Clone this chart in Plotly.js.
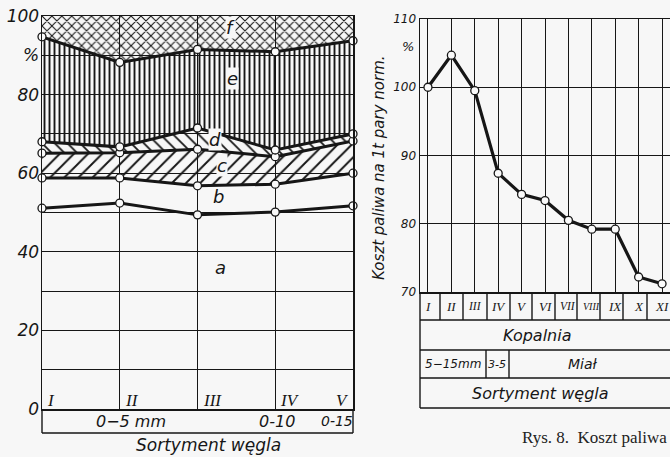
<!DOCTYPE html>
<html>
<head>
<meta charset="utf-8">
<script src="https://cdn.plot.ly/plotly-3.0.1.min.js"></script>
<style>html,body{margin:0;padding:0;background:#f7f7f7;}</style>
</head>
<body>
<div id="chart" style="width:670px;height:457px;"></div>
<script>
// ---------- data: left chart (stacked shares, %) ----------
const gradesLeft = ['I', 'II', 'III', 'IV', 'V'];
const lineA = [51.1, 52.4, 49.4, 50.1, 51.7];
const lineB = [58.8, 58.8, 56.8, 57.2, 60.0];
const lineC = [65.1, 65.2, 66.1, 64.2, 68.2];
const lineD = [68.0, 66.7, 71.5, 65.9, 70.0];
const lineE = [94.7, 88.2, 91.5, 90.9, 93.7];
const lineF = [100, 100, 100, 100, 100];
const zoneLabels = ['a', 'b', 'c', 'd', 'e', 'f'];
const leftYTicks = [0, 10, 20, 30, 40, 50, 60, 70, 80, 90, 100];
const leftYText = ['0', '', '20', '', '40', '', '60', '', '80', '%', '100'];
const leftSizes = ['0\u22125 mm', '0-10', '0-15'];
const leftAxisTitle = 'Sortyment węgla';

// ---------- data: right chart (fuel cost) ----------
const mines = ['I', 'II', 'III', 'IV', 'V', 'VI', 'VII', 'VIII', 'IX', 'X', 'XI'];
const cost = [100, 104.7, 99.5, 87.4, 84.3, 83.4, 80.5, 79.2, 79.2, 72.2, 71.2];
const rightYTicks = [70, 80, 90, 100, 110];
const rightYTitle = 'Koszt paliwa na 1t pary norm.';
const rowMine = 'Kopalnia';
const rightSizes = ['5\u221215mm', '3-5', 'Miał'];
const rightAxisTitle = 'Sortyment węgla';
const caption = 'Rys. 8.  Koszt paliwa';

// ---------- helpers ----------
const W = 670, H = 457;
const px = v => v / W;
const py = v => 1 - v / H;
const INK = '#161616';
const BG = '#f7f7f7';
const SANS = 'DejaVu Sans, Liberation Sans, sans-serif';
const SERIF = 'Liberation Serif, serif';
const fnt = (size, fam) => ({family: fam || SANS, size: size, color: INK, style: 'italic'});
const xs = gradesLeft.map((_, i) => i);
const xr = mines.map((_, i) => i);

const pat = (shape, size, sol) => ({shape: shape, size: size, solidity: sol, fgcolor: INK, bgcolor: 'rgba(0,0,0,0)', fgopacity: 1});

const traces = [
  {x: xs, y: lineB, mode: 'lines', line: {width: 0}, hoverinfo: 'skip', xaxis: 'x', yaxis: 'y'},
  {x: xs, y: lineC, mode: 'lines', line: {width: 0}, fill: 'tonexty', fillcolor: 'rgba(0,0,0,0)', fillpattern: pat('/', 10, 0.2), xaxis: 'x', yaxis: 'y'},
  {x: xs, y: lineD, mode: 'lines', line: {width: 0}, fill: 'tonexty', fillcolor: 'rgba(0,0,0,0)', fillpattern: pat('\\', 9, 0.2), xaxis: 'x', yaxis: 'y'},
  {x: xs, y: lineE, mode: 'lines', line: {width: 0}, fill: 'tonexty', fillcolor: 'rgba(0,0,0,0)', fillpattern: pat('|', 5, 0.38), xaxis: 'x', yaxis: 'y'},
  {x: xs, y: lineF, mode: 'lines', line: {width: 0}, fill: 'tonexty', fillcolor: 'rgba(0,0,0,0)', fillpattern: pat('x', 7, 0.28), xaxis: 'x', yaxis: 'y'}
];
[lineA, lineB, lineC, lineD, lineE].forEach(arr => {
  traces.push({x: xs, y: arr, mode: 'lines+markers', cliponaxis: false,
    line: {color: INK, width: 3},
    marker: {size: 8, color: '#fafafa', line: {color: INK, width: 1.3}},
    xaxis: 'x', yaxis: 'y'});
});
traces.push({x: xr, y: cost, mode: 'lines+markers', cliponaxis: false,
  line: {color: INK, width: 3.2},
  marker: {size: 8, color: '#fafafa', line: {color: INK, width: 1.3}},
  xaxis: 'x2', yaxis: 'y2'});

// ---------- annotations ----------
const ann = [];
const A = (o) => ann.push(Object.assign({showarrow: false, xanchor: 'center', yanchor: 'middle'}, o));
const zonePos = [[2.3, 36], [2.27, 54], [2.32, 62], [2.22, 68.6], [2.45, 84], [2.43, 97]];
zoneLabels.forEach((t, i) => A({xref: 'x', yref: 'y', x: zonePos[i][0], y: zonePos[i][1], text: t, font: fnt(18),
  bgcolor: i >= 2 ? BG : 'rgba(0,0,0,0)', borderpad: 0}));
gradesLeft.forEach((t, i) => A({xref: 'x', yref: 'paper', x: i, y: py(400), text: t,
  xanchor: i === gradesLeft.length - 1 ? 'right' : 'left', xshift: i === gradesLeft.length - 1 ? -2 : 3,
  font: fnt(17, SERIF)}));
const leftSizeX = [131, 277, 337];
leftSizes.forEach((t, i) => A({xref: 'paper', yref: 'paper', x: px(leftSizeX[i]), y: py(421), text: t, font: fnt(i === 2 ? 14 : 16)}));
A({xref: 'paper', yref: 'paper', x: px(208), y: py(445), text: leftAxisTitle, font: fnt(17)});

// right chart
A({xref: 'paper', yref: 'paper', x: px(408), y: py(46), text: '%', font: fnt(13)});
A({xref: 'paper', yref: 'paper', x: px(379), y: py(168), text: rightYTitle, textangle: -90, font: fnt(15)});
mines.forEach((t, i) => A({xref: 'x2', yref: 'paper', x: i, y: py(306), text: t,
  font: fnt(t.length > 3 ? 10 : (t.length === 3 ? 11.5 : 13), SERIF)}));
A({xref: 'paper', yref: 'paper', x: px(537), y: py(335), text: rowMine, font: fnt(16)});
const rightSizeX = [453, 497, 583];
rightSizes.forEach((t, i) => A({xref: 'paper', yref: 'paper', x: px(rightSizeX[i]), y: py(364), text: t, font: fnt(i === 0 ? 12 : (i === 1 ? 11 : 14))}));
A({xref: 'paper', yref: 'paper', x: px(540), y: py(393), text: rightAxisTitle, font: fnt(16)});
A({xref: 'paper', yref: 'paper', x: px(669), y: py(437), xanchor: 'right', text: caption,
  font: {family: SERIF, size: 17, color: '#222'}});

// ---------- table lines ----------
const ln = (x0, y0, x1, y1) => ({type: 'line', xref: 'paper', yref: 'paper', x0: px(x0), y0: py(y0), x1: px(x1), y1: py(y1),
  line: {color: INK, width: 1.4}});
const shapes = [
  ln(42, 409, 42, 433), ln(353, 409, 353, 433), ln(42, 433, 353, 433),
  ln(420, 292, 420, 408), ln(420, 320, 670, 320), ln(420, 350, 670, 350), ln(420, 378, 670, 378), ln(420, 408, 670, 408),
  ln(486, 350, 486, 378), ln(509, 350, 509, 378)
];
const cellEdges = [440, 463, 487, 510, 532, 555, 577, 600, 623, 647];
cellEdges.forEach(e => shapes.push(ln(e, 292, e, 320)));

const gridAx = {showgrid: true, gridcolor: INK, gridwidth: 1, zeroline: false, showline: true, linecolor: INK,
  linewidth: 1.5, ticks: '', fixedrange: true};

const layout = {
  width: W, height: H,
  margin: {l: 0, r: 0, t: 0, b: 0, pad: 0},
  paper_bgcolor: BG, plot_bgcolor: BG,
  showlegend: false,
  xaxis: Object.assign({}, gridAx, {domain: [px(42), px(353)], range: [0, 4], tickvals: xs, showticklabels: false, mirror: true, anchor: 'y'}),
  yaxis: Object.assign({}, gridAx, {domain: [py(409), py(16)], range: [0, 100], tickvals: leftYTicks, ticktext: leftYText,
    mirror: true, anchor: 'x', tickfont: fnt(17), ticklabelstandoff: -2}),
  xaxis2: Object.assign({}, gridAx, {domain: [px(420), 1], range: [-0.34, 10.34], tickvals: xr, showticklabels: false, mirror: true, anchor: 'y2'}),
  yaxis2: Object.assign({}, gridAx, {domain: [py(292), py(19)], range: [70, 110], tickvals: rightYTicks,
    anchor: 'x2', tickfont: fnt(12), ticklabelstandoff: 0}),
  annotations: ann,
  shapes: shapes
};

Plotly.newPlot('chart', traces, layout, {staticPlot: true, displayModeBar: false});
</script>
</body>
</html>
